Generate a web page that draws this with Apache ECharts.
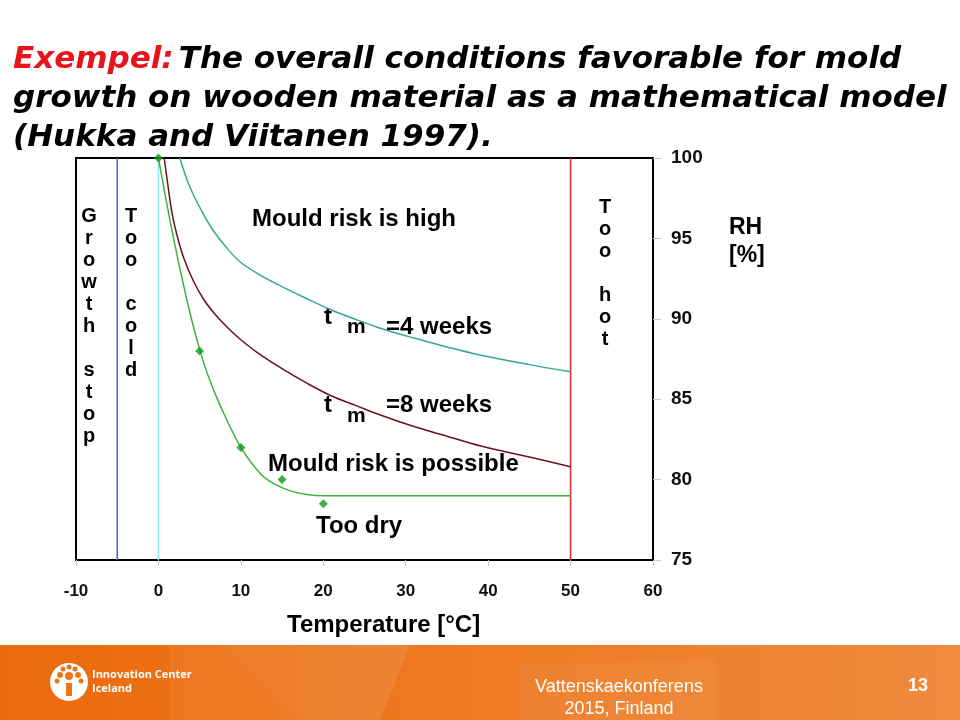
<!DOCTYPE html>
<html>
<head>
<meta charset="utf-8">
<script src="https://cdn.jsdelivr.net/npm/echarts@6/dist/echarts.min.js"></script>
<style>html,body{margin:0;padding:0;background:#fff}#c{width:960px;height:720px}</style>
</head>
<body>
<div id="c"></div>
<script>
// ---- data ----
const xTicks = [-10, 0, 10, 20, 30, 40, 50, 60];
const yTicks = [75, 80, 85, 90, 95, 100];

// tm = 4 weeks (teal curve): [temperature, RH]
const tm4Temp = [2.6, 3.5, 4.3, 5.1, 6.5, 8.3, 10, 12.4, 15, 18, 21, 24, 27, 31, 35, 39, 45, 50];
const tm4RH   = [100, 98.6, 97.65, 96.85, 95.6, 94.4, 93.5, 92.7, 92.0, 91.25, 90.55, 89.95, 89.4, 88.8, 88.25, 87.75, 87.15, 86.7];

// tm = 8 weeks (dark red curve)
const tm8Temp = [0.7, 1.1, 1.64, 2.3, 3.06, 4.2, 5.5, 7, 8.5, 10, 12, 15, 18, 21, 24, 27, 31, 35, 39, 45, 50];
const tm8RH   = [100, 98.5, 96.6, 95.1, 93.8, 92.4, 91.2, 90.2, 89.4, 88.7, 87.9, 86.9, 86.0, 85.2, 84.6, 84.0, 83.3, 82.7, 82.1, 81.4, 80.8];

// critical RH curve (green line)
const critTemp = [0, 1, 2, 3, 4, 5, 6, 7.5, 10, 12.4, 14, 16, 18, 20, 30, 40, 50];
const critRH   = [100, 97.2, 94.6, 92.2, 90.0, 88.1, 86.5, 84.6, 82.0, 80.35, 79.75, 79.3, 79.08, 79.0, 79.0, 79.0, 79.0];

// green diamond points
const markTemp = [0, 5, 10, 15, 20];
const markRH   = [100, 88.0, 82.0, 80.0, 78.5];

// vertical boundary lines (temperature)
const growthStopT = -5;
const tooColdT = 0;
const tooHotT = 50;
const rhRange = [75, 100];

const zip = (a, b) => a.map((v, i) => [v, b[i]]);
const vline = t => rhRange.map(r => [t, r]);

const chart = echarts.init(document.getElementById('c'), null, {renderer: 'canvas'});

const FONT = 'Liberation Sans, Arial, sans-serif';
const bold = {fontFamily: FONT, fontWeight: 'bold', fill: '#000'};
function vText(x, y, letters) {
  return {type: 'text', x: x, y: y,
    style: Object.assign({text: letters.join('\n'), fontSize: 20, lineHeight: 22, align: 'center', verticalAlign: 'top'}, bold)};
}
function txt(x, y, s, size, extra) {
  return {type: 'text', x: x, y: y,
    style: Object.assign({text: s, fontSize: size, verticalAlign: 'middle'}, bold, extra || {})};
}

const option = {
  backgroundColor: '#fff',
  animation: false,
  title: {
    left: 8, top: 35,
    text: '{r|Exempel:} {b|The overall conditions favorable for mold}\n{b|growth on wooden material as a mathematical model}\n{b|(Hukka and Viitanen 1997).}',
    textStyle: {
      rich: {
        r: {color: '#e8141c', fontSize: 31, fontStyle: 'italic', fontWeight: 'bold', fontFamily: 'DejaVu Sans', lineHeight: 39},
        b: {color: '#000', fontSize: 31, fontStyle: 'italic', fontWeight: 'bold', fontFamily: 'DejaVu Sans', lineHeight: 39}
      }
    }
  },
  grid: {left: 76, right: 307, top: 158, bottom: 160, show: true, borderColor: '#000', borderWidth: 2, backgroundColor: 'transparent'},
  xAxis: {
    type: 'value', min: xTicks[0], max: xTicks[xTicks.length - 1], interval: 10,
    axisLine: {show: false, onZero: false},
    axisTick: {show: true, length: 6, lineStyle: {color: '#c8c8c8'}},
    splitLine: {show: false},
    axisLabel: {margin: 23, fontSize: 17, fontWeight: 'bold', color: '#111', fontFamily: FONT}
  },
  yAxis: {
    type: 'value', position: 'right', min: yTicks[0], max: yTicks[yTicks.length - 1], interval: 5,
    axisLine: {show: false, onZero: false},
    axisTick: {show: true, length: 8, lineStyle: {color: '#c8c8c8'}},
    splitLine: {show: false},
    axisLabel: {margin: 18, fontSize: 19, fontWeight: 'bold', color: '#111', fontFamily: FONT}
  },
  series: [
    {type: 'line', data: vline(growthStopT), symbol: 'none', lineStyle: {color: '#4a5fd6', width: 1.5}, silent: true},
    {type: 'line', data: vline(tooColdT), symbol: 'none', lineStyle: {color: '#88eeee', width: 1.5}, silent: true},
    {type: 'line', data: vline(tooHotT), symbol: 'none', lineStyle: {color: '#dd2a36', width: 1.5}, silent: true},
    {type: 'line', data: zip(tm4Temp, tm4RH), symbol: 'none', smooth: 0.35, lineStyle: {color: '#35a893', width: 1.5}},
    {type: 'line', data: zip(tm8Temp, tm8RH), symbol: 'none', smooth: 0.35, lineStyle: {color: '#6b1020', width: 1.5}},
    {type: 'line', data: zip(critTemp, critRH), symbol: 'none', smooth: 0.35, lineStyle: {color: '#3cb33c', width: 1.5}},
    {type: 'scatter', data: zip(markTemp, markRH), symbol: 'diamond', symbolSize: 9, itemStyle: {color: '#0d9a17'}, z: 5}
  ],
  graphic: [
    // annotations
    txt(252, 219, 'Mould risk is high', 24),
    txt(324, 317, 't', 24),
    txt(347, 327, 'm', 21),
    txt(386, 327, '=4 weeks', 24),
    txt(324, 405, 't', 24),
    txt(347, 416, 'm', 21),
    txt(386, 405, '=8 weeks', 24),
    txt(268, 464, 'Mould risk is possible', 24),
    txt(316, 526, 'Too dry', 24),
    vText(89, 205, ['G','r','o','w','t','h','','s','t','o','p']),
    vText(131, 205, ['T','o','o','','c','o','l','d']),
    vText(605, 196, ['T','o','o','','h','o','t']),
    {type: 'text', x: 729, y: 242, style: Object.assign({text: 'RH\n[%]', fontSize: 23, lineHeight: 28, verticalAlign: 'middle', align: 'left'}, bold)},
    txt(287, 625, 'Temperature [°C]', 24),
    // footer
    {type: 'rect', shape: {x: 0, y: 645, width: 960, height: 75}, z: -10,
      style: {fill: new echarts.graphic.LinearGradient(0, 0, 1, 0, [{offset: 0, color: '#eb6a0c'}, {offset: 0.5, color: '#ee7a22'}, {offset: 1, color: '#f08a3e'}])}},
    {type: 'polygon', z: -9, shape: {points: [[170, 645], [225, 645], [300, 720], [170, 720]]}, style: {fill: 'rgba(255,255,255,0.05)'}},
    {type: 'polygon', z: -9, shape: {points: [[225, 645], [410, 645], [380, 720], [300, 720]]}, style: {fill: 'rgba(255,255,255,0.09)'}},
    {type: 'polygon', z: -9, shape: {points: [[520, 665], [715, 660], [715, 720], [520, 720]]}, style: {fill: 'rgba(255,255,255,0.05)'}},
    {type: 'circle', shape: {cx: 69, cy: 682, r: 19}, style: {fill: '#fff'}},
    {type: 'rect', shape: {x: 66, y: 683, width: 6, height: 13}, style: {fill: '#ee7418'}},
    {type: 'circle', shape: {cx: 69, cy: 676, r: 4}, style: {fill: '#ee7418'}},
    {type: 'circle', shape: {cx: 60, cy: 675, r: 3}, style: {fill: '#ee7418'}},
    {type: 'circle', shape: {cx: 78, cy: 675, r: 3}, style: {fill: '#ee7418'}},
    {type: 'circle', shape: {cx: 63, cy: 669, r: 2.5}, style: {fill: '#ee7418'}},
    {type: 'circle', shape: {cx: 75, cy: 669, r: 2.5}, style: {fill: '#ee7418'}},
    {type: 'circle', shape: {cx: 69, cy: 667, r: 2.5}, style: {fill: '#ee7418'}},
    {type: 'circle', shape: {cx: 57, cy: 681, r: 2.5}, style: {fill: '#ee7418'}},
    {type: 'circle', shape: {cx: 81, cy: 681, r: 2.5}, style: {fill: '#ee7418'}},
    {type: 'text', x: 92, y: 675, style: {text: 'Innovation Center', fontSize: 11, fontWeight: 'bold', fill: '#fff', fontFamily: 'Open Sans, sans-serif', verticalAlign: 'middle'}},
    {type: 'text', x: 92, y: 689, style: {text: 'Iceland', fontSize: 11, fontWeight: 'bold', fill: '#fff', fontFamily: 'Open Sans, sans-serif', verticalAlign: 'middle'}},
    {type: 'text', x: 619, y: 687, style: {text: 'Vattenskaekonferens', fontSize: 18, fill: '#fff', fontFamily: FONT, align: 'center', verticalAlign: 'middle'}},
    {type: 'text', x: 619, y: 709, style: {text: '2015, Finland', fontSize: 18, fill: '#fff', fontFamily: FONT, align: 'center', verticalAlign: 'middle'}},
    {type: 'text', x: 918, y: 686, style: {text: '13', fontSize: 18, fontWeight: 'bold', fill: '#fff', fontFamily: FONT, align: 'center', verticalAlign: 'middle'}}
  ]
};
chart.setOption(option);
</script>
</body>
</html>
